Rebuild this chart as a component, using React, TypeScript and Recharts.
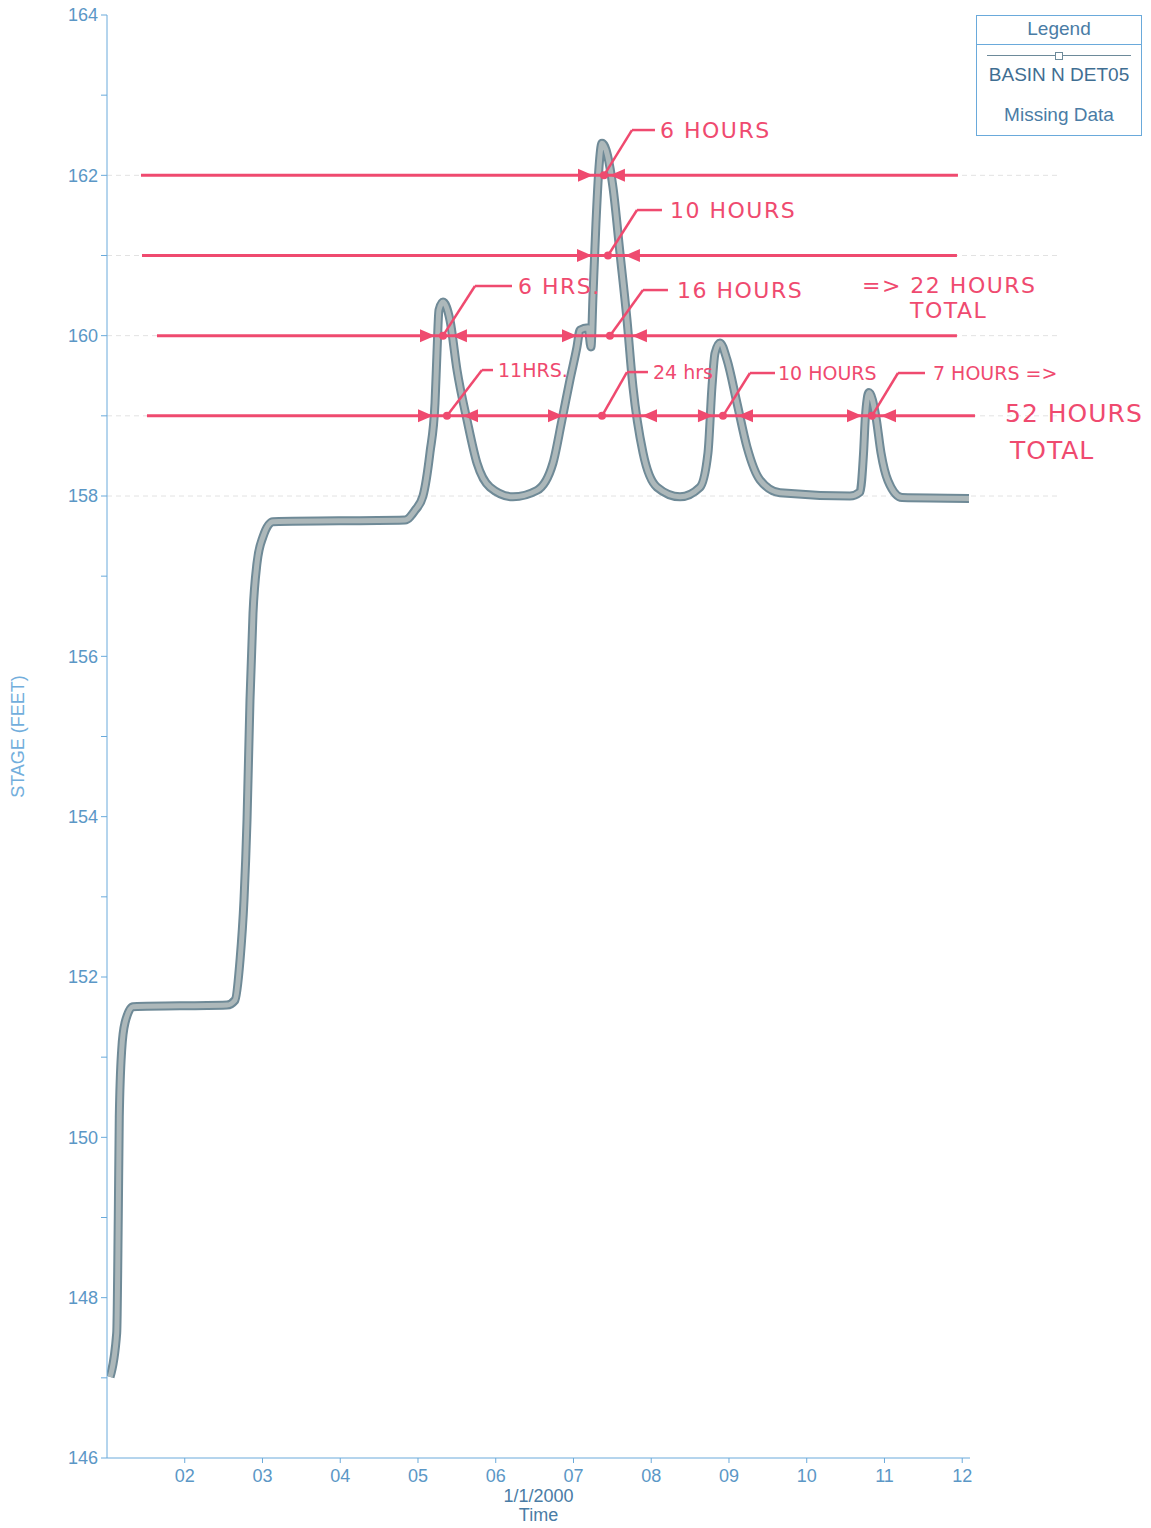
import React from 'react';
import { LineChart, Line, XAxis, YAxis, ReferenceLine, ReferenceDot } from 'recharts';

// Stage hydrograph (time in days of Jan 2000, stage in feet)
const timeDays = [
  1.039, 1.125, 1.145, 1.158, 1.189, 1.232, 1.334, 2.543, 2.646, 2.711, 2.762, 2.801,
  2.839, 2.878, 2.929, 3.006, 3.135, 4.833, 4.961, 5.064, 5.154, 5.219, 5.244, 5.27,
  5.322, 5.412, 5.502, 5.63, 5.759, 5.926, 6.222, 6.531, 6.736, 6.852, 6.955, 7.045,
  7.084, 7.187, 7.225, 7.251, 7.289, 7.328, 7.367, 7.508, 7.598, 7.688, 7.765, 7.894,
  8.074, 8.37, 8.627, 8.73, 8.781, 8.82, 8.884, 8.974, 9.103, 9.232, 9.399, 9.656,
  10.556, 10.685, 10.731, 10.754, 10.801, 10.891, 10.955, 11.045, 11.225, 12.087,
];
const stageFeet = [
  147.01, 147.56, 149.0, 150.25, 151.09, 151.43, 151.63, 151.65, 151.71, 152.21, 152.96, 153.96,
  155.45, 156.54, 157.16, 157.49, 157.68, 157.7, 157.82, 158.0, 158.54, 159.16, 159.78, 160.32,
  160.42, 160.19, 159.57, 158.95, 158.41, 158.11, 157.99, 158.07, 158.41, 158.95, 159.45, 159.86,
  160.07, 160.1, 159.86, 160.5, 161.4, 162.1, 162.4, 161.85, 161.03, 160.2, 159.36, 158.54,
  158.11, 157.99, 158.11, 158.54, 159.36, 159.78, 159.91, 159.7, 159.16, 158.61, 158.2, 158.04,
  158.0, 158.05, 158.54, 158.98, 159.29, 158.98, 158.54, 158.19, 157.98, 157.97,
];

const xTicks = [2, 3, 4, 5, 6, 7, 8, 9, 10, 11, 12];
const yTicks = [146, 147, 148, 149, 150, 151, 152, 153, 154, 155, 156, 157, 158, 159, 160, 161, 162, 163, 164];

// faint grid levels
const gridStages = [158, 159, 160, 161, 162];

// hand-drawn threshold lines
const levelStages = [162, 161, 160, 159];
const levelStarts = [1.437, 1.45, 1.643, 1.514];
const levelEnds = [11.945, 11.932, 11.932, 12.164];

// arrow heads at crossings
const arrowTimes = [7.251, 7.469, 7.238, 7.662, 5.219, 5.437, 7.045, 7.752, 5.193, 5.579, 6.865, 7.881, 8.794, 9.116, 10.711, 10.955];
const arrowStages = [162, 162, 161, 161, 160, 160, 160, 160, 159, 159, 159, 159, 159, 159, 159, 159];
const arrowDirs = ['right', 'left', 'right', 'left', 'right', 'left', 'right', 'left', 'right', 'left', 'right', 'left', 'right', 'left', 'right', 'left'];

// annotation notes: dot -> elbow -> end of leader, then text
const noteTexts = ['6 HOURS', '10 HOURS', '6 HRS.', '16 HOURS', '11HRS.', '24 hrs', '10 HOURS', '7 HOURS  =>'];
const noteDotTimes = [7.392, 7.444, 5.322, 7.469, 5.373, 7.367, 8.923, 10.839];
const noteDotStages = [162, 161, 160, 160, 159, 159, 159, 159];
const noteElbowTimes = [7.752, 7.817, 5.733, 7.894, 5.823, 7.688, 9.27, 11.174];
const noteStages = [162.565, 161.567, 160.619, 160.569, 159.571, 159.546, 159.534, 159.534];
const noteEndTimes = [8.048, 8.138, 6.209, 8.215, 5.965, 7.958, 9.592, 11.521];
const noteTextTimes = [8.113, 8.241, 6.286, 8.331, 6.029, 8.023, 9.63, 11.624];

const totalTexts = ['=> 22 HOURS', 'TOTAL', '52 HOURS', 'TOTAL'];
const totalTimes = [10.711, 11.328, 12.55, 12.614];
const totalStages = [160.63, 160.31, 159.035, 158.57];

const RED = '#ef4a6f';
const AXIS = '#6aaadb';
const TICK = '#5b97c6';
const FONT = '"Liberation Sans", Arial, sans-serif';
const HAND = '"DejaVu Sans", sans-serif';

const curveRows = timeDays.map((t, i) => ({ t, stage: stageFeet[i] }));

const arrowShape = (dir: string) => (props: any) => {
  const { cx, cy } = props;
  const s = dir === 'right' ? -1 : 1;
  return (
    <polygon
      points={`${cx},${cy} ${cx + s * 15},${cy - 6.5} ${cx + s * 15},${cy + 6.5}`}
      fill={RED}
    />
  );
};

// notes on the lowest line were written smaller
const noteShape = (text: string, stage: number) => (props: any) => {
  const small = stage < 160;
  return (
    <text
      x={props.cx}
      y={props.cy}
      dominantBaseline="central"
      fill={RED}
      fontSize={small ? 19 : 22}
      fontFamily={HAND}
      letterSpacing={small ? 0 : 1.5}
    >
      {text}
    </text>
  );
};

const totalShape = (text: string, big: boolean) => (props: any) => (
  <text
    x={props.cx}
    y={props.cy}
    dominantBaseline="central"
    fill={RED}
    fontSize={big ? 25 : 22}
    fontFamily={HAND}
    letterSpacing={big ? 1 : 1.5}
  >
    {text}
  </text>
);

const dotShape = (props: any) => <circle cx={props.cx} cy={props.cy} r={4} fill={RED} />;

function YLabel(props: any) {
  const vb = props.viewBox;
  const y = vb.y + vb.height / 2;
  return (
    <text
      x={18}
      y={y}
      transform={`rotate(-90, 18, ${y})`}
      textAnchor="middle"
      dominantBaseline="central"
      fill="#72aedc"
      fontSize={18}
      fontFamily={FONT}
    >
      STAGE (FEET)
    </text>
  );
}

function XLabel(props: any) {
  const vb = props.viewBox;
  const cx = vb.x + vb.width / 2;
  return (
    <g fill="#4a7ca5" fontSize={18} fontFamily={FONT} textAnchor="middle">
      <text x={cx} y={1502}>1/1/2000</text>
      <text x={cx} y={1521}>Time</text>
    </g>
  );
}

function LegendBox() {
  return (
    <div
      style={{
        position: 'absolute',
        left: 976,
        top: 15,
        width: 164,
        height: 119,
        border: `1.5px solid ${AXIS}`,
        fontFamily: FONT,
        color: '#4a7ca5',
        fontSize: 19,
        background: '#fff',
      }}
    >
      <div style={{ textAlign: 'center', height: 28, lineHeight: '26px', borderBottom: `1.5px solid ${AXIS}` }}>
        Legend
      </div>
      <div style={{ position: 'relative', height: 18 }}>
        <div style={{ position: 'absolute', left: 10, right: 10, top: 10, borderTop: '1.5px solid #6d8a9a' }} />
        <div
          style={{
            position: 'absolute',
            left: 78,
            top: 7,
            width: 6,
            height: 6,
            border: '1px solid #6d8a9a',
            background: '#fff',
          }}
        />
      </div>
      <div style={{ textAlign: 'center', lineHeight: '24px', color: '#3f6e92' }}>BASIN N DET05</div>
      <div style={{ textAlign: 'center', lineHeight: '24px', marginTop: 16 }}>Missing Data</div>
    </div>
  );
}

export default function App() {
  return (
    <div style={{ position: 'absolute', left: 0, top: 0, width: 1151, height: 1528, background: '#fff' }}>
      <LineChart
        width={1151}
        height={1528}
        data={curveRows}
        margin={{ top: 15, right: 181, bottom: 10, left: 0 }}
      >
        <XAxis
          dataKey="t"
          type="number"
          domain={[1, 12.1]}
          ticks={xTicks}
          allowDataOverflow
          height={60}
          stroke={AXIS}
          tickSize={5}
          tick={{ fill: TICK, fontSize: 18, fontFamily: FONT, dy: 4 }}
          tickFormatter={(v: number) => String(v).padStart(2, '0')}
          label={<XLabel />}
        />
        <YAxis
          type="number"
          domain={[146, 164]}
          ticks={yTicks}
          interval={0}
          width={107}
          stroke={AXIS}
          tickSize={6}
          tickMargin={3}
          tick={{ fill: TICK, fontSize: 18, fontFamily: FONT }}
          tickFormatter={(v: number) => (v % 2 === 0 ? String(v) : '')}
          label={<YLabel />}
        />
        {gridStages.map((s) => (
          <ReferenceLine
            key={`g${s}`}
            segment={[{ x: 1, y: s }, { x: 13.25, y: s }]}
            stroke="#e2e2e2"
            strokeDasharray="5 4"
            ifOverflow="visible"
          />
        ))}
        <Line
          dataKey="stage"
          type="monotone"
          stroke="#6f8a97"
          strokeWidth={9}
          dot={false}
          isAnimationActive={false}
        />
        <Line
          dataKey="stage"
          type="monotone"
          stroke="#adb8ba"
          strokeWidth={5}
          dot={false}
          isAnimationActive={false}
        />
        {levelStages.map((s, i) => (
          <ReferenceLine
            key={`l${s}`}
            segment={[{ x: levelStarts[i], y: s }, { x: levelEnds[i], y: s }]}
            stroke={RED}
            strokeWidth={3}
            ifOverflow="visible"
          />
        ))}
        {arrowTimes.map((t, i) => (
          <ReferenceDot
            key={`a${i}`}
            x={t}
            y={arrowStages[i]}
            r={1}
            ifOverflow="visible"
            shape={arrowShape(arrowDirs[i])}
          />
        ))}
        {noteTexts.map((txt, i) => (
          <ReferenceLine
            key={`n1${i}`}
            segment={[{ x: noteDotTimes[i], y: noteDotStages[i] }, { x: noteElbowTimes[i], y: noteStages[i] }]}
            stroke={RED}
            strokeWidth={2.5}
            ifOverflow="visible"
          />
        ))}
        {noteTexts.map((txt, i) => (
          <ReferenceLine
            key={`n2${i}`}
            segment={[{ x: noteElbowTimes[i], y: noteStages[i] }, { x: noteEndTimes[i], y: noteStages[i] }]}
            stroke={RED}
            strokeWidth={2.5}
            ifOverflow="visible"
          />
        ))}
        {noteTexts.map((txt, i) => (
          <ReferenceDot
            key={`d${i}`}
            x={noteDotTimes[i]}
            y={noteDotStages[i]}
            r={1}
            ifOverflow="visible"
            shape={dotShape}
          />
        ))}
        {noteTexts.map((txt, i) => (
          <ReferenceDot
            key={`t${i}`}
            x={noteTextTimes[i]}
            y={noteStages[i]}
            r={1}
            ifOverflow="visible"
            shape={noteShape(txt, noteStages[i])}
          />
        ))}
        {totalTexts.map((txt, i) => (
          <ReferenceDot
            key={`s${i}`}
            x={totalTimes[i]}
            y={totalStages[i]}
            r={1}
            ifOverflow="visible"
            shape={totalShape(txt, i >= 2)}
          />
        ))}
      </LineChart>
      <LegendBox />
    </div>
  );
}
